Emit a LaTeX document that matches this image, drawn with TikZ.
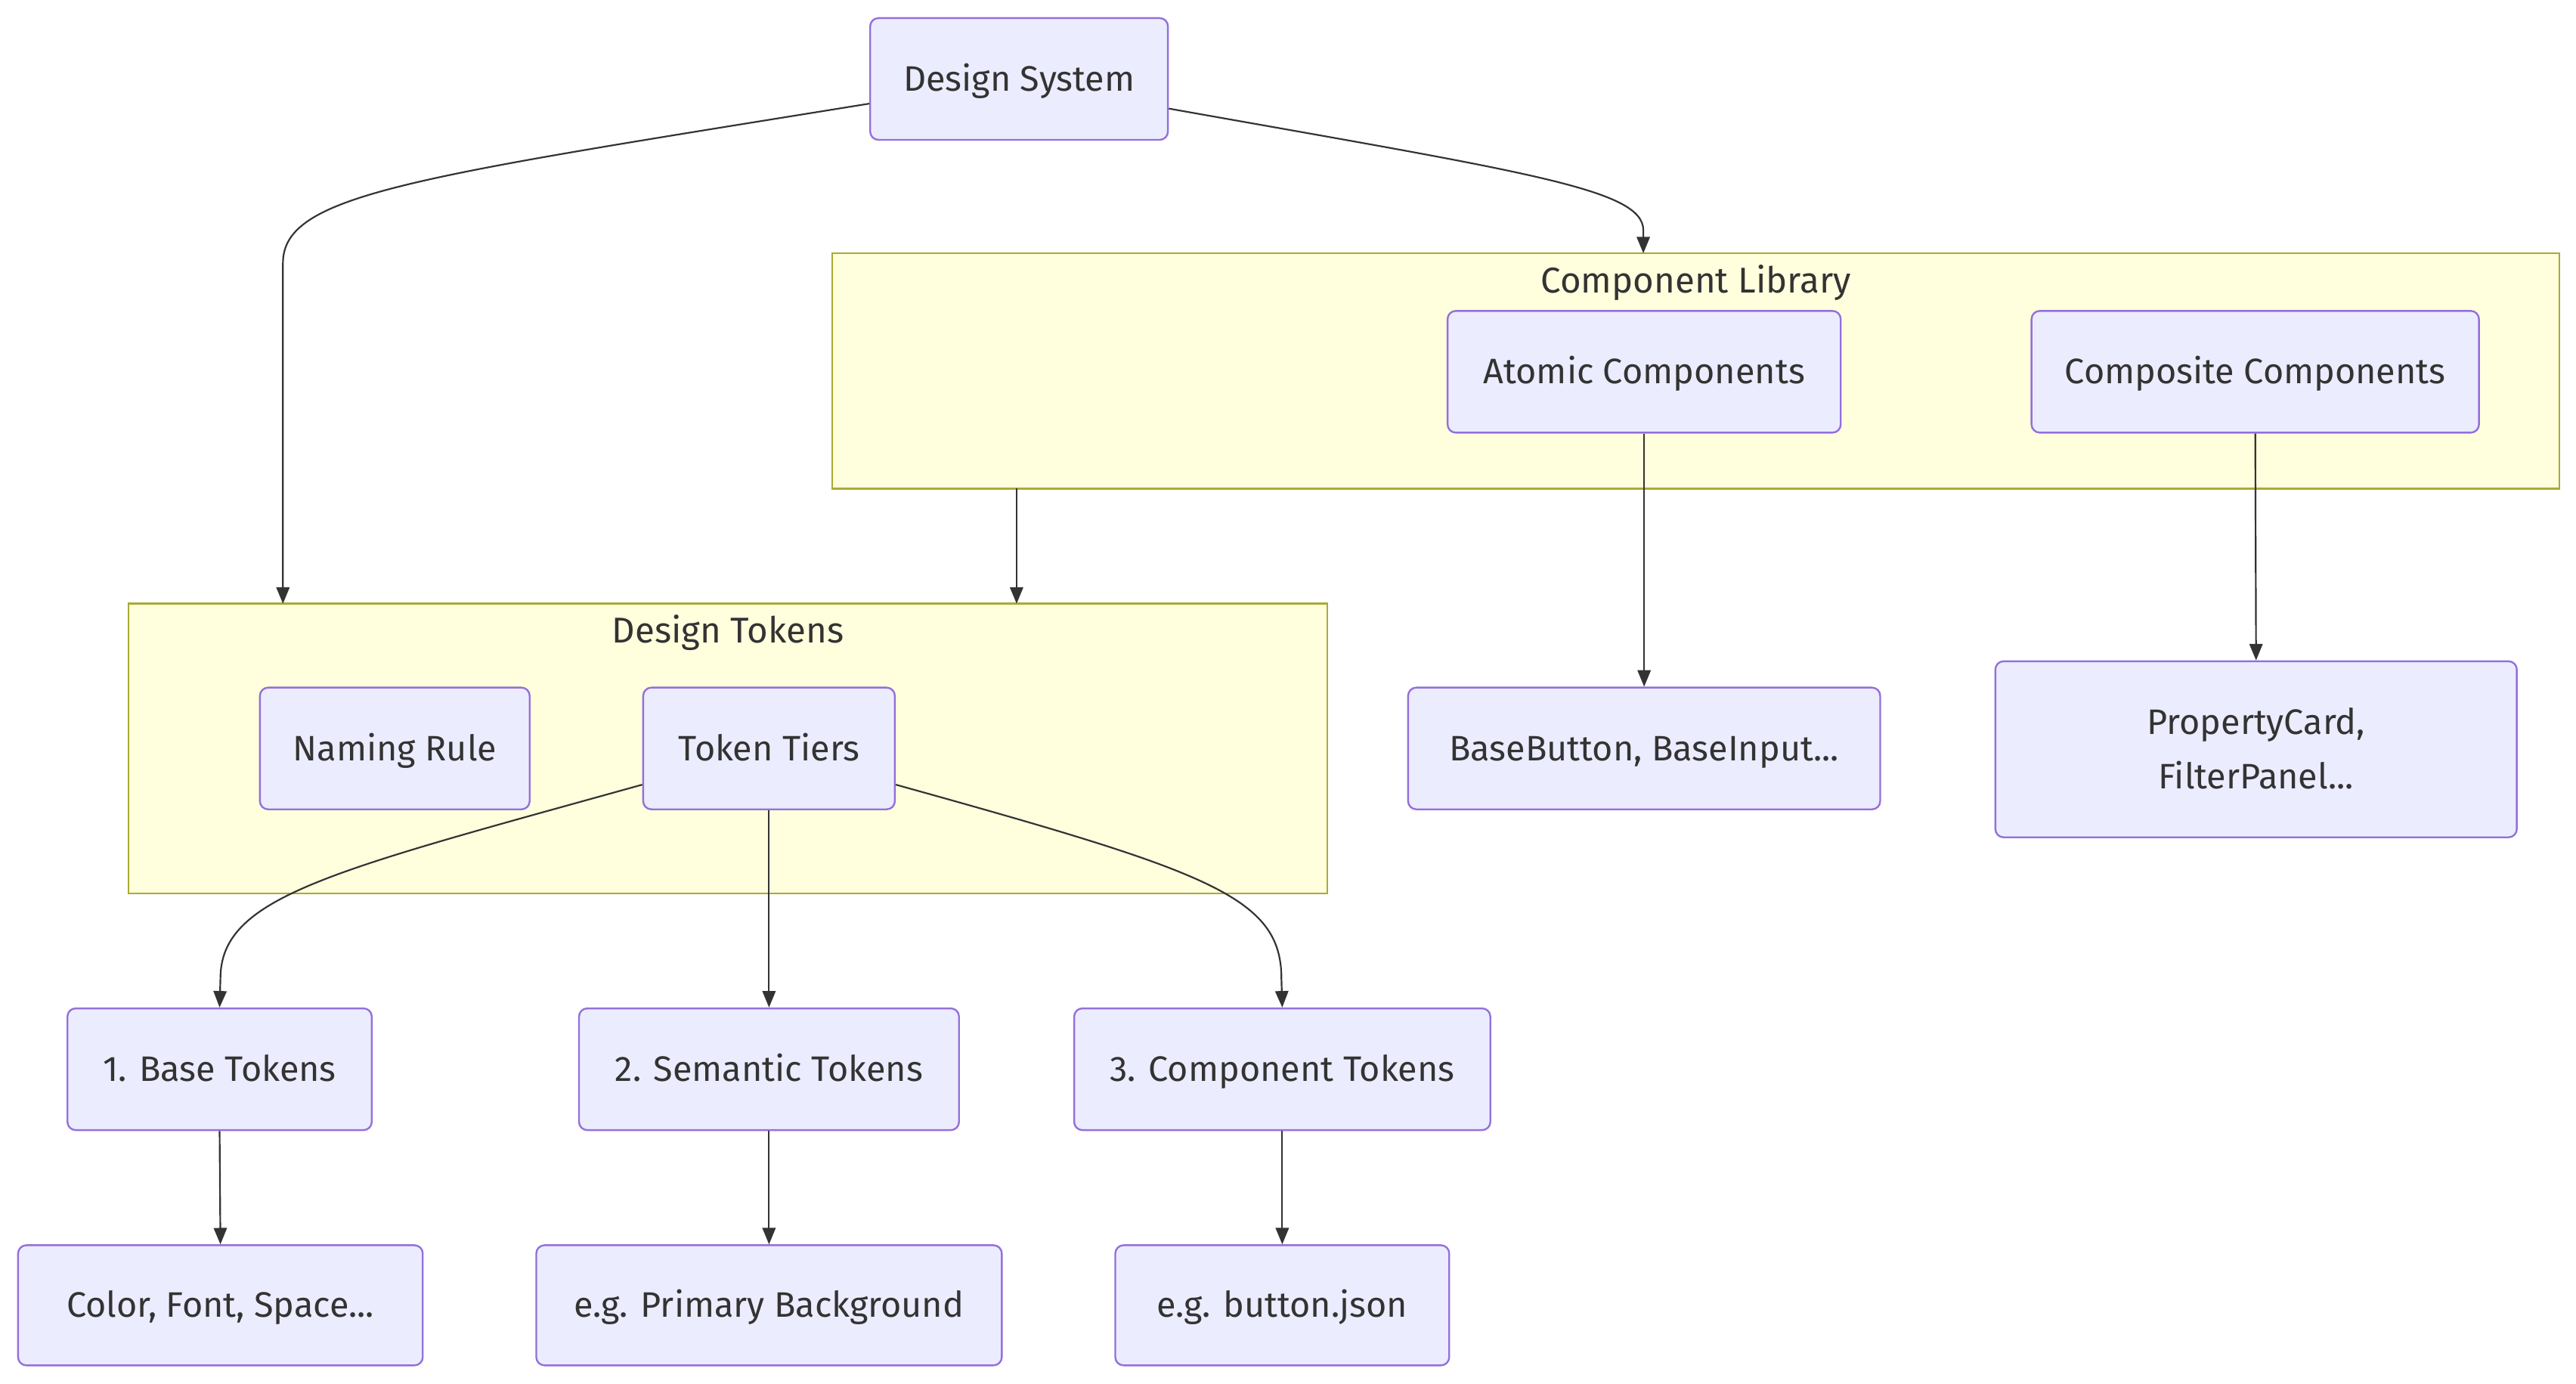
\documentclass[tikz,border=0pt]{standalone}
\usepackage{fontspec}
\setmainfont{Fira Sans}
\usetikzlibrary{arrows.meta}
\definecolor{nodefill}{HTML}{ECECFF}
\definecolor{nodedraw}{HTML}{9370DB}
\definecolor{clfill}{HTML}{FFFFDE}
\definecolor{cldraw}{HTML}{AAAA33}
\definecolor{edgecol}{HTML}{333333}
\definecolor{txt}{HTML}{333333}
\begin{document}
\begin{tikzpicture}[x=1pt,y=-1pt,
  box/.style={draw=nodedraw, fill=nodefill, line width=1.1pt, rounded corners=5pt, text=txt,
    font=\fontsize{21.5}{33}\selectfont, inner sep=0pt, align=center,
    text height=14.8pt, text depth=0pt},
  cluster/.style={draw=cldraw, fill=clfill, line width=1.1pt, inner sep=0pt},
  cltitle/.style={text=txt, font=\fontsize{21.8}{24}\selectfont, inner sep=0pt,
    text height=15pt, text depth=0pt},
  link/.style={draw=edgecol, line width=1pt, -{Triangle[length=10pt,width=8pt]}},
]
\useasboundingbox (0,0) rectangle (1566,841);
% clusters
\node[cluster, minimum width=1050pt, minimum height=143pt] (cl) at (1031,225.5) {};
\node[cltitle] (cltitle) at (1031,170.5) {Component Library};
\node[cluster, minimum width=729pt, minimum height=176pt] (dt) at (442.5,455) {};
\node[cltitle] (dttitle) at (442.5,383.5) {Design Tokens};
% nodes
\node[box, minimum width=181pt, minimum height=74pt] (ds) at (619.5,48) {Design System};
\node[box, minimum width=239pt, minimum height=74pt] (atomic) at (999.5,226) {Atomic Components};
\node[box, minimum width=272pt, minimum height=74pt] (composite) at (1371,226) {Composite Components};
\node[box, minimum width=164pt, minimum height=74pt] (naming) at (240,455) {Naming Rule};
\node[box, minimum width=153pt, minimum height=74pt] (tiers) at (467.5,455) {Token Tiers};
\node[box, minimum width=287pt, minimum height=74pt] (basebtn) at (999.5,455) {BaseButton, BaseInput...};
\node[box, minimum width=317pt, minimum height=107pt, text height=47.8pt, text depth=0pt] (propcard) at (1371.5,455.5) {PropertyCard,\\FilterPanel...};
\node[box, minimum width=185pt, minimum height=74pt] (base) at (133.5,650) {1. Base Tokens};
\node[box, minimum width=231pt, minimum height=74pt] (semantic) at (467.5,650) {2. Semantic Tokens};
\node[box, minimum width=253pt, minimum height=74pt] (comptok) at (779.5,650) {3. Component Tokens};
\node[box, minimum width=246pt, minimum height=73pt] (color) at (134,793.5) {Color, Font, Space...};
\node[box, minimum width=283pt, minimum height=73pt] (primary) at (467.5,793.5) {e.g. Primary Background};
\node[box, minimum width=203pt, minimum height=73pt] (buttonjson) at (779.5,793.5) {e.g. button.json};
% connector ends on clusters
\coordinate (dtin1) at (172,367);
\coordinate (dtin2) at (618,367);
\coordinate (clin) at (999,154);
\coordinate (clout) at (618,297);
% connectors
\draw[link] ([yshift=-15pt]ds.west) .. controls (250,108) and (172,118) .. (172,160) -- (dtin1);
\draw[link] ([yshift=-18pt]ds.east) .. controls (930,105) and (999,115) .. (999,140) -- (clin);
\draw[link] (clout) -- (dtin2);
\draw[link] (atomic.south) -- (basebtn.north);
\draw[link] (composite.south) -- (propcard.north);
\draw[link] ([yshift=-22pt]tiers.west) .. controls (200,530) and (134,545) .. (134,595) -- (base.north);
\draw[link] (tiers.south) -- (semantic.north);
\draw[link] ([yshift=-22pt]tiers.east) .. controls (735,530) and (779,545) .. (779,595) -- (comptok.north);
\draw[link] (base.south) -- (color.north);
\draw[link] (semantic.south) -- (primary.north);
\draw[link] (comptok.south) -- (buttonjson.north);
\end{tikzpicture}
\end{document}
